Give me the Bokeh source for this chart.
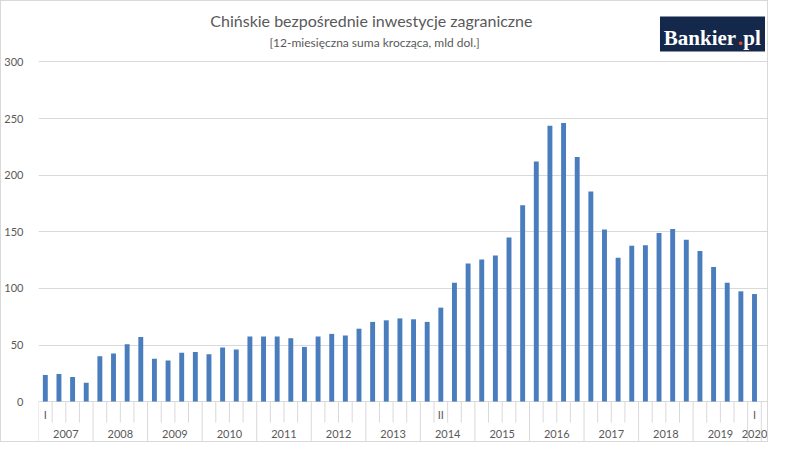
from bokeh.plotting import figure
from bokeh.models import Range1d, FixedTicker, Label, BoxAnnotation, ColumnDataSource
from bokeh.core.properties import value
from bokeh.embed import file_html
from bokeh.resources import INLINE

title = "Chińskie bezpośrednie  inwestycje zagraniczne"
subtitle = "[12-miesięczna suma krocząca, mld dol.]"

years = ["2007", "2008", "2009", "2010", "2011", "2012", "2013",
         "2014", "2015", "2016", "2017", "2018", "2019", "2020"]
quarters_per_year = [4, 4, 4, 4, 4, 4, 4, 4, 4, 4, 4, 4, 4, 1]
# quarter labels shown on the axis (others blank)
quarter_labels = ["I", "", "", "", "", "", "", "", "", "", "", "", "", "", "", "",
                  "", "", "", "", "", "", "", "", "", "", "", "", "", "II", "", "",
                  "", "", "", "", "", "", "", "", "", "", "", "", "", "", "", "",
                  "", "", "", "", "I"]
values = [23.4, 24.3, 21.7, 16.6,
          40.0, 42.6, 50.6, 57.0,
          37.8, 36.3, 43.2, 43.8,
          41.8, 47.8, 46.0, 57.5,
          57.5, 57.5, 56.0, 48.3,
          57.5, 59.8, 58.4, 64.4,
          70.4, 71.8, 73.5, 72.7,
          70.4, 83.0, 105.0, 122.0,
          125.6, 129.0, 145.0, 173.5,
          212.0, 243.6, 246.0, 216.0,
          185.5, 152.0, 127.0, 137.6,
          138.0, 149.0, 152.5, 143.0,
          133.0, 119.0, 105.0, 97.4,
          95.0]
y_ticks = [0, 50, 100, 150, 200, 250, 300]

GREY_TXT = "#595959"
GRID = "#d9d9d9"
BAR = "#4a7dbd"
FONT = "Lato"

n = len(values)
idx = list(range(n))

W, H = 768, 442
Y_BOTTOM = -37.0
p = figure(width=W, height=H, output_backend="svg", toolbar_location=None,
           x_axis_location=None, title=None,
           x_range=Range1d(-0.5, n + 0.1), y_range=Range1d(Y_BOTTOM, 353.4),
           min_border_left=32, min_border_right=0, min_border_top=0,
           min_border_bottom=0)
p.outline_line_color = None
p.background_fill_color = "white"
p.border_fill_color = "white"
p.styles = {"border": "1px solid #d9d9d9"}

p.xgrid.visible = False
p.ygrid.ticker = FixedTicker(ticks=y_ticks)
p.ygrid.grid_line_color = GRID
p.ygrid.grid_line_width = 1

ax = p.yaxis[0]
ax.ticker = FixedTicker(ticks=y_ticks)
ax.axis_line_color = None
ax.major_tick_line_color = None
ax.minor_tick_line_color = None
ax.major_label_text_font = FONT
ax.major_label_text_font_size = "11px"
ax.major_label_text_color = GREY_TXT
ax.major_label_standoff = 9

src = ColumnDataSource(dict(x=idx, top=values))
p.vbar(x="x", top="top", width=0.36, bottom=0, source=src,
       fill_color=BAR, line_color=None)

# category axis separators
short_len = 18.5
year_starts = []
s = 0
for q in quarters_per_year:
    year_starts.append(s)
    s += q
year_bounds = set(year_starts + [n])
x0s, y0s, x1s, y1s = [], [], [], []
for k in range(n + 1):
    xb = k - 0.5
    x0s.append(xb); x1s.append(xb); y0s.append(0)
    y1s.append(Y_BOTTOM if k in year_bounds else -short_len)
p.segment(x0=x0s, y0=y0s, x1=x1s, y1=y1s, line_color=GRID, line_width=1)

# quarter labels
p.text(x=idx, y=[-11.5] * n, text=quarter_labels, text_font=value(FONT),
       text_font_size="11px", text_color=GREY_TXT, text_align="center",
       text_baseline="middle")
# year labels
yc = [st + (q - 1) / 2 for st, q in zip(year_starts, quarters_per_year)]
p.text(x=yc, y=[-28.5] * len(years), text=years, text_font=value(FONT),
       text_font_size="11px", text_color=GREY_TXT, text_align="center",
       text_baseline="middle")

# titles
p.add_layout(Label(x=24.06, y=336.7, text=title, text_font=FONT,
                   text_font_size="16px", text_color=GREY_TXT,
                   text_align="center", text_baseline="middle"))
p.add_layout(Label(x=24.14, y=317.2, text=subtitle, text_font=FONT,
                   text_font_size="12px", text_color=GREY_TXT,
                   text_align="center", text_baseline="middle"))

# logo
p.add_layout(BoxAnnotation(left=45.07, right=52.77, top=340.2, bottom=309.3,
                           fill_color="#14284b", fill_alpha=1.0,
                           line_color=None))
for tx, xx, col in [("Bankier", 45.35, "white"), (".", 50.78, "#e8501e"),
                    ("pl", 51.18, "white")]:
    p.add_layout(Label(x=xx, y=321.0, text=tx, text_font="Liberation Serif",
                       text_font_style="bold", text_font_size="21px",
                       text_color=col, text_align="left",
                       text_baseline="alphabetic"))

open("out.html", "w").write(file_html(p, INLINE))
